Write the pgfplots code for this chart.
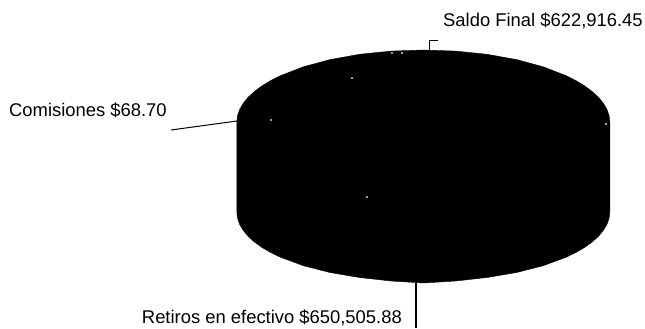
\documentclass[border=0pt]{standalone}
\usepackage{fontspec}
\setmainfont{Liberation Sans}
\usepackage{pgfplots}
\pgfplotsset{compat=1.18}

\begin{document}
\begin{tikzpicture}
\useasboundingbox (0,0) rectangle (645pt,329pt);
\begin{axis}[
    scale only axis,
    width=645pt,
    height=329pt,
    xmin=0, xmax=645,
    ymin=0, ymax=329,
    y dir=reverse,
    hide axis,
    clip=false,
]
% outline of the pie, in pixels of the picture
\addplot[fill=black, draw=black, line width=0.4pt] coordinates {
    (236.8,122) (237.5,115.7) (239.6,109.5) (243.2,103.4) (248,97.4) (254.3,91.6)
    (261.8,86) (270.5,80.7) (280.4,75.7) (303.4,66.8) (330,59.6) (359.5,54.3)
    (390.9,51.1) (423.3,50) (455.7,51.1) (487.1,54.3) (516.6,59.6) (543.2,66.8)
    (566.2,75.7) (576.1,80.7) (584.8,86) (592.3,91.6) (598.6,97.4) (603.4,103.4)
    (607,109.5) (609.1,115.7) (609.8,122)
    (609.8,212) (609.1,218.2) (607,224.3) (603.4,230.3) (598.6,236.2) (592.3,241.9)
    (584.8,247.3) (576.1,252.4) (566.2,257.2) (543.2,265.7) (516.6,272.5) (487.1,277.5)
    (455.7,281) (423.3,283) (390.9,281) (359.5,277.5) (330,272.5) (303.4,265.7)
    (280.4,257.2) (270.5,252.4) (261.8,247.3) (254.3,241.9) (248,236.2) (243.2,230.3)
    (239.6,224.3) (237.5,218.2) (236.8,212)
} -- cycle;
% specks in the scan
\addplot[only marks, mark=*, mark size=0.6pt, white] coordinates {
    (271,120) (352,78) (392,53) (402,53) (367,197) (606,124)
};
% leader lines
\addplot[black, line width=1pt] coordinates {(171,130) (237,121)};
\addplot[black, line width=0.7pt] coordinates {(429,50) (429,40) (438,40)};
\addplot[black, line width=1.4pt] coordinates {(416,283) (416,328)};
\node[anchor=west, font=\fontsize{18.4}{20}\selectfont, inner sep=0pt] at (axis cs:9,110) {Comisiones \$68.70};
\node[anchor=west, font=\fontsize{18.4}{20}\selectfont, inner sep=0pt] at (axis cs:443,21) {Saldo Final \$622,916.45};
\node[anchor=east, font=\fontsize{18.4}{20}\selectfont, inner sep=0pt] at (axis cs:402,318) {Retiros en efectivo \$650,505.88};
\end{axis}
\end{tikzpicture}
\end{document}
